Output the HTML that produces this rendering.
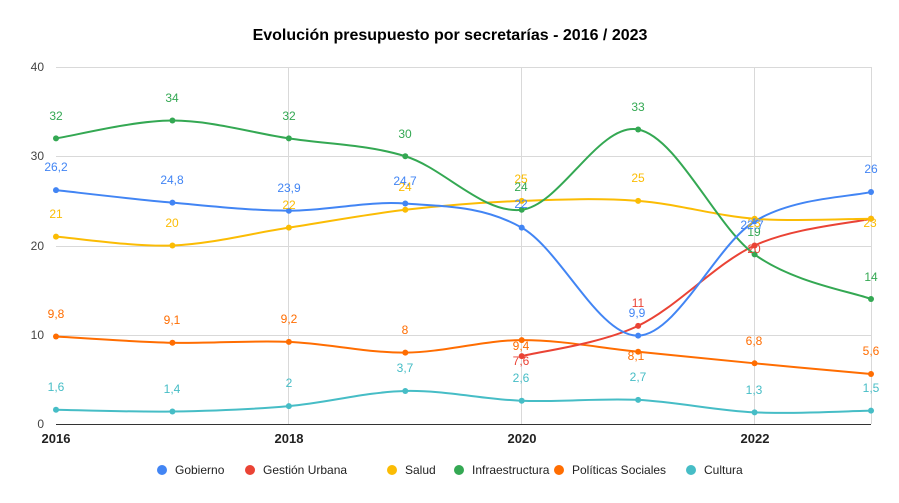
<!DOCTYPE html>
<html><head><meta charset="utf-8"><style>
body{margin:0;background:#fff}
svg{display:block;font-family:"Liberation Sans",Arial,sans-serif}
.l{font-size:12px;text-anchor:middle;dominant-baseline:middle}
</style></head><body>
<svg id="s" width="899" height="503" viewBox="0 0 899 503">
<rect width="899" height="503" fill="#fff"/>
<text x="450" y="40" text-anchor="middle" font-size="16" font-weight="bold" fill="#000">Evolución presupuesto por secretarías - 2016 / 2023</text>
<g stroke="#d9d9d9" stroke-width="1">
<line x1="56" y1="67.5" x2="871" y2="67.5"/><line x1="56" y1="156.5" x2="871" y2="156.5"/>
<line x1="56" y1="246.5" x2="871" y2="246.5"/><line x1="56" y1="335.5" x2="871" y2="335.5"/>
<line x1="288.5" y1="67" x2="288.5" y2="424"/><line x1="521.5" y1="67" x2="521.5" y2="424"/>
<line x1="754.5" y1="67" x2="754.5" y2="424"/><line x1="871.5" y1="67" x2="871.5" y2="424"/>
</g>
<line x1="56" y1="424.5" x2="871" y2="424.5" stroke="#333" stroke-width="1"/>
<g font-size="12" fill="#444" text-anchor="end">
<text x="44" y="71">40</text><text x="44" y="160">30</text><text x="44" y="250">20</text><text x="44" y="339">10</text><text x="44" y="428">0</text>
</g>
<g font-size="13" font-weight="bold" fill="#222" text-anchor="middle">
<text x="56" y="443">2016</text><text x="289" y="443">2018</text><text x="522" y="443">2020</text><text x="755" y="443">2022</text>
</g>
<g id="lines"></g>
<g class="l" fill="#46bdc6"><text x="56" y="388">1,6</text><text x="172" y="390">1,4</text><text x="289" y="384">2</text><text x="405" y="369">3,7</text><text x="521" y="379">2,6</text><text x="638" y="378">2,7</text><text x="754" y="391">1,3</text><text x="871" y="389">1,5</text></g>
<g class="l" fill="#ff6d01"><text x="56" y="315">9,8</text><text x="172" y="321">9,1</text><text x="289" y="320">9,2</text><text x="405" y="331">8</text><text x="521" y="347">9,4</text><text x="636" y="357">8,1</text><text x="754" y="342">6,8</text><text x="871" y="352">5,6</text></g>
<g class="l" fill="#ea4335"><text x="521" y="362">7,6</text><text x="638" y="304">11</text><text x="754" y="250">20</text></g>
<g class="l" fill="#fbbc04"><text x="56" y="215">21</text><text x="172" y="224">20</text><text x="289" y="206">22</text><text x="405" y="188">24</text><text x="521" y="180">25</text><text x="638" y="179">25</text><text x="754" y="224">23</text><text x="870" y="224">23</text></g>
<g class="l" fill="#34a853"><text x="56" y="117">32</text><text x="172" y="99">34</text><text x="289" y="117">32</text><text x="405" y="135">30</text><text x="521" y="188">24</text><text x="638" y="108">33</text><text x="754" y="233">19</text><text x="871" y="278">14</text></g>
<g class="l" fill="#4285f4"><text x="56" y="168">26,2</text><text x="172" y="181">24,8</text><text x="289" y="189">23,9</text><text x="405" y="182">24,7</text><text x="521" y="205">22</text><text x="637" y="314">9,9</text><text x="752" y="226">22,7</text><text x="871" y="170">26</text></g>
<g font-size="12" fill="#222">
<circle cx="162" cy="470" r="5" fill="#4285f4"/><text x="175" y="474">Gobierno</text>
<circle cx="250" cy="470" r="5" fill="#ea4335"/><text x="263" y="474">Gestión Urbana</text>
<circle cx="392" cy="470" r="5" fill="#fbbc04"/><text x="405" y="474">Salud</text>
<circle cx="459" cy="470" r="5" fill="#34a853"/><text x="472" y="474">Infraestructura</text>
<circle cx="559" cy="470" r="5" fill="#ff6d01"/><text x="572" y="474">Políticas Sociales</text>
<circle cx="691" cy="470" r="5" fill="#46bdc6"/><text x="704" y="474">Cultura</text>
</g>
</svg>
<script>
var X=i=>56+i*116.43,Y=v=>424-v*8.925;
var S=[["#46bdc6",0,[1.6,1.4,2,3.7,2.6,2.7,1.3,1.5]],["#ff6d01",0,[9.8,9.1,9.2,8,9.4,8.1,6.8,5.6]],
["#ea4335",4,[7.6,11,20,23]],["#fbbc04",0,[21,20,22,24,25,25,23,23]],["#34a853",0,[32,34,32,30,24,33,19,14]],
["#4285f4",0,[26.2,24.8,23.9,24.7,22,9.9,22.7,26]]];
var g=document.getElementById("lines"),h="";
S.forEach(function(s){var p=s[2].map((v,i)=>[X(s[1]+i),Y(v)]);var d="M"+p[0][0]+","+p[0][1];
for(var i=0;i<p.length-1;i++){var p0=p[i-1]||p[i],p1=p[i],p2=p[i+1],p3=p[i+2]||p2,t=6;
d+="C"+(p1[0]+(p2[0]-p0[0])/t)+","+(p1[1]+(p2[1]-p0[1])/t)+" "+(p2[0]-(p3[0]-p1[0])/t)+","+(p2[1]-(p3[1]-p1[1])/t)+" "+p2[0]+","+p2[1];}
h+='<path d="'+d+'" fill="none" stroke="'+s[0]+'" stroke-width="2"/>';
p.forEach(q=>h+='<circle cx="'+q[0]+'" cy="'+q[1]+'" r="3" fill="'+s[0]+'"/>');});
g.innerHTML=h;
</script>
</body></html>
